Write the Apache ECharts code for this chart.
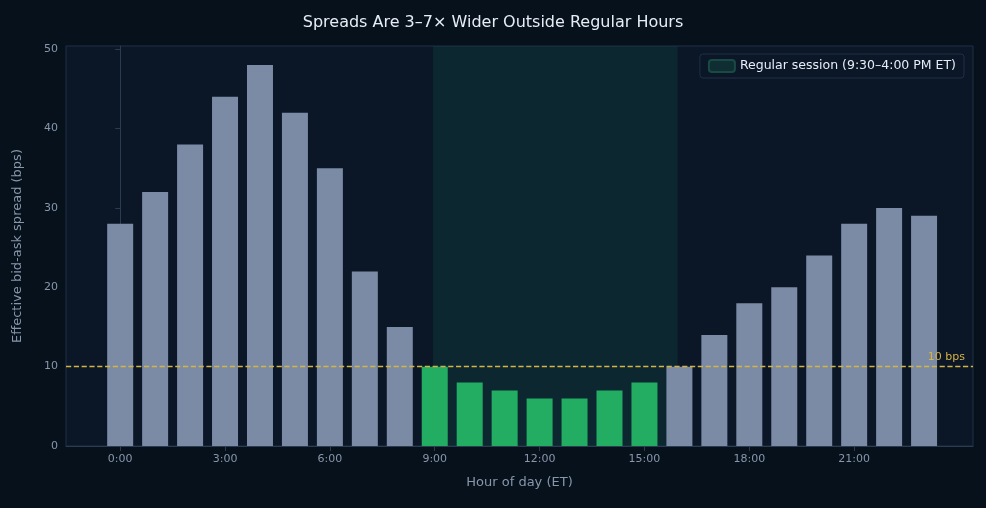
<!DOCTYPE html>
<html><head><meta charset="utf-8">
<script src="https://cdn.jsdelivr.net/npm/echarts@6/dist/echarts.min.js"></script>
<style>html,body{margin:0;background:#07111c}#c{width:986px;height:508px}</style>
</head><body><div id="c"></div>
<script>
const hours = [0,1,2,3,4,5,6,7,8,9,10,11,12,13,14,15,16,17,18,19,20,21,22,23];
const spreads = [28,32,38,44,48,42,35,22,15,10,8,7,6,6,7,8,10,14,18,20,24,28,30,29];
const tickHours = [0,3,6,9,12,15,18,21];
const yTicks = [0,10,20,30,40,50];
const sessionStart = 9, sessionEnd = 16;

const chart = echarts.init(document.getElementById('c'));
const data = hours.map((h,i)=>({value:[h,spreads[i]], itemStyle:{color:(h>=sessionStart&&h<sessionEnd)?'#22ad62':'#7b8ba6'}}));
chart.setOption({
  backgroundColor:'#07111c',
  textStyle:{fontFamily:'DejaVu Sans'},
  title:{text:'Spreads Are 3–7× Wider Outside Regular Hours',left:'center',top:10,textStyle:{color:'#e6edf5',fontSize:16,fontWeight:'normal'}},
  legend:{right:22,top:54,data:['Regular session (9:30–4:00 PM ET)'],itemWidth:26,itemHeight:12,
    backgroundColor:'#0b1627',borderColor:'#1e3047',borderWidth:1,padding:[5,8],borderRadius:3,
    textStyle:{color:'#e6edf5',fontSize:12.5}},
  grid:{left:66,right:13,top:46,bottom:62,show:true,backgroundColor:'#0b1627',borderColor:'#1e3047'},
  xAxis:{type:'value',min:-1.55,max:24.4,name:'Hour of day (ET)',nameLocation:'middle',nameGap:30,
    nameTextStyle:{color:'#8796ab',fontSize:13},
    axisLine:{show:true,onZero:false,lineStyle:{color:'#2a3b52'}},
    axisTick:{show:true,customValues:tickHours,lineStyle:{color:'#2a3b52'}},
    axisLabel:{customValues:tickHours,color:'#8796ab',fontSize:11,formatter:v=>v+':00'},
    splitLine:{show:false}},
  yAxis:{type:'value',min:0,max:50.4,interval:10,name:'Effective bid-ask spread (bps)',nameLocation:'middle',nameGap:42,
    nameTextStyle:{color:'#8796ab',fontSize:13},
    axisLine:{show:true,lineStyle:{color:'#2a3b52'}},
    axisTick:{show:true,customValues:yTicks,lineStyle:{color:'#2a3b52'}},
    axisLabel:{customValues:yTicks,color:'#8796ab',fontSize:11},
    splitLine:{show:false}},
  series:[
    {type:'bar',name:'Regular session (9:30–4:00 PM ET)',data:[],itemStyle:{color:'#0f2e33',borderColor:'#1a4a44',borderWidth:1},
     markArea:{silent:true,itemStyle:{color:'rgba(20,80,70,0.3)'},data:[[{xAxis:sessionStart-0.05},{xAxis:sessionEnd-0.05}]]}},
    {type:'bar',name:'spread',data:data,barWidth:26,barGap:'-100%',
     markLine:{silent:true,symbol:'none',lineStyle:{color:'#d4b443',type:'dashed',width:1.3},
       label:{position:'insideEndTop',formatter:'10 bps',color:'#d4b443',fontSize:11,distance:[8,4]},
       data:[{yAxis:10}]}}
  ]
});
</script></body></html>
